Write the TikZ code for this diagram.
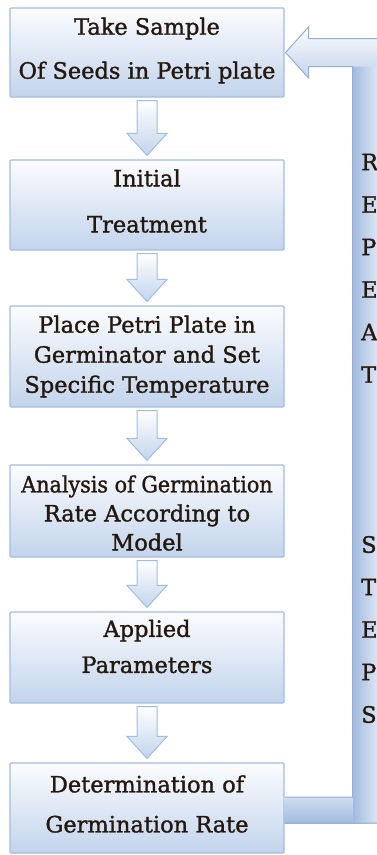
\documentclass[tikz,border=0pt]{standalone}
\usepackage{fontspec}
\setmainfont{DejaVu Serif}
\newfontface\heavyserif{DejaVu Serif}[FakeBold=1.3]
\usepackage{graphicx}
\usetikzlibrary{calc}
\definecolor{boxtop}{HTML}{FBFCFE}
\definecolor{boxbot}{HTML}{C2D4EC}
\definecolor{boxline}{HTML}{A3BDE0}
\definecolor{txt}{HTML}{24180F}
\definecolor{bardark}{HTML}{A2BBDF}
\definecolor{barlight}{HTML}{E6EDF8}
\definecolor{loopline}{HTML}{94B0D8}
\tikzset{
 stepbox/.style={draw=boxline, line width=1.1pt, top color=boxtop, bottom color=boxbot,
   minimum width=274pt, inner sep=0pt, rounded corners=1pt},
 steptext/.style={text=txt, align=center, font=\heavyserif\fontsize{22.5}{#1}\selectfont, inner sep=0pt},
 flowarrow/.style={draw=boxline, line width=1pt, top color=white, bottom color=boxbot},
 loopletter/.style={text=txt, font=\heavyserif\fontsize{22.5}{27}\selectfont, inner sep=0pt, anchor=west}
}
\newcommand{\flowdown}[2]{%
 \path[flowarrow] ($(#1.south)+(-10,3)$) -- ($(#1.south)+(10,3)$) -- ($(#2.north)+(10,-26)$)
   -- ($(#2.north)+(20,-26)$) -- ($(#2.north)+(0,-4)$) -- ($(#2.north)+(-20,-26)$)
   -- ($(#2.north)+(-10,-26)$) -- cycle;}
\begin{document}
\begin{tikzpicture}[x=1pt,y=-1pt]
\useasboundingbox (0,0) rectangle (377,855);
\fill[white] (0,0) rectangle (377,855);

% boxes
\node[stepbox, minimum height=89pt] (b1) at (147,52.5) {};
\node[stepbox, minimum height=90pt] (b2) at (147,205) {};
\node[stepbox, minimum height=101pt] (b3) at (147,356.5) {};
\node[stepbox, minimum height=92pt] (b4) at (147,511) {};
\node[stepbox, minimum height=91pt] (b5) at (147,657.5) {};
\node[stepbox, minimum height=90pt] (b6) at (147,808) {};

% texts
\node[steptext=44] (t1) at ($(b1.center)+(0,-2)$) {Take Sample\\Of Seeds in Petri plate};
\node[steptext=46] (t2) at ($(b2.center)+(0,-4)$) {Initial\\Treatment};
\node[steptext=30] (t3) at ($(b3.center)+(0,0)$) {Place Petri Plate in\\Germinator and Set\\Specific Temperature};
\node[steptext=29] (t4) at ($(b4.center)+(0,2)$) {\scalebox{0.92}[1]{Analysis of Germination}\\Rate According to\\Model};
\node[steptext=36] (t5) at ($(b5.center)+(0,-11)$) {Applied\\Parameters};
\node[steptext=40] (t6) at ($(b6.center)+(0,-4)$) {Determination of\\Germination Rate};

% down arrows
\flowdown{b1}{b2}
\flowdown{b2}{b3}
\flowdown{b3}{b4}
\flowdown{b4}{b5}
\flowdown{b5}{b6}

% loop back
\coordinate (tip) at ($(b1.east)+(1,0)$);
\coordinate (lb1) at ($(b6.east)+(0,-11)$);
\coordinate (lb2) at ($(b6.east)+(0,15)$);
\coordinate (barL) at ($(tip)+(67,14)$);
\coordinate (barR) at ($(tip)+(96,-14)$);

\shade[left color=bardark, right color=barlight] (barL) rectangle (barR |- lb2);
\shade[top color=boxbot!80!white, middle color=barlight, bottom color=bardark] (lb1) rectangle (barL |- lb2);
\shade[top color=boxtop, bottom color=boxbot]
  (tip) -- ($(tip)+(23,-25.5)$) -- ($(tip)+(23,-14)$) -- (barR) -- ($(barR)+(0,28)$)
  -- ($(tip)+(23,14)$) -- ($(tip)+(23,25.5)$) -- cycle;
\draw[loopline, line width=1pt, line join=miter]
  (lb1) -- (barL |- lb1) -- (barL) -- ($(tip)+(23,14)$) -- ($(tip)+(23,25.5)$) -- (tip)
  -- ($(tip)+(23,-25.5)$) -- ($(tip)+(23,-14)$) -- (barR) -- (barR |- lb2) -- (lb2);

% vertical letters
\foreach \ch [count=\i] in {R,E,P,E,A,T}
  \node[loopletter] (r\i) at (361, 162+42.5*\i-42.5) {\ch};
\foreach \ch [count=\i] in {S,T,E,P,S}
  \node[loopletter] (s\i) at (361, 544.5+42.5*\i-42.5) {\ch};
\end{tikzpicture}
\end{document}
